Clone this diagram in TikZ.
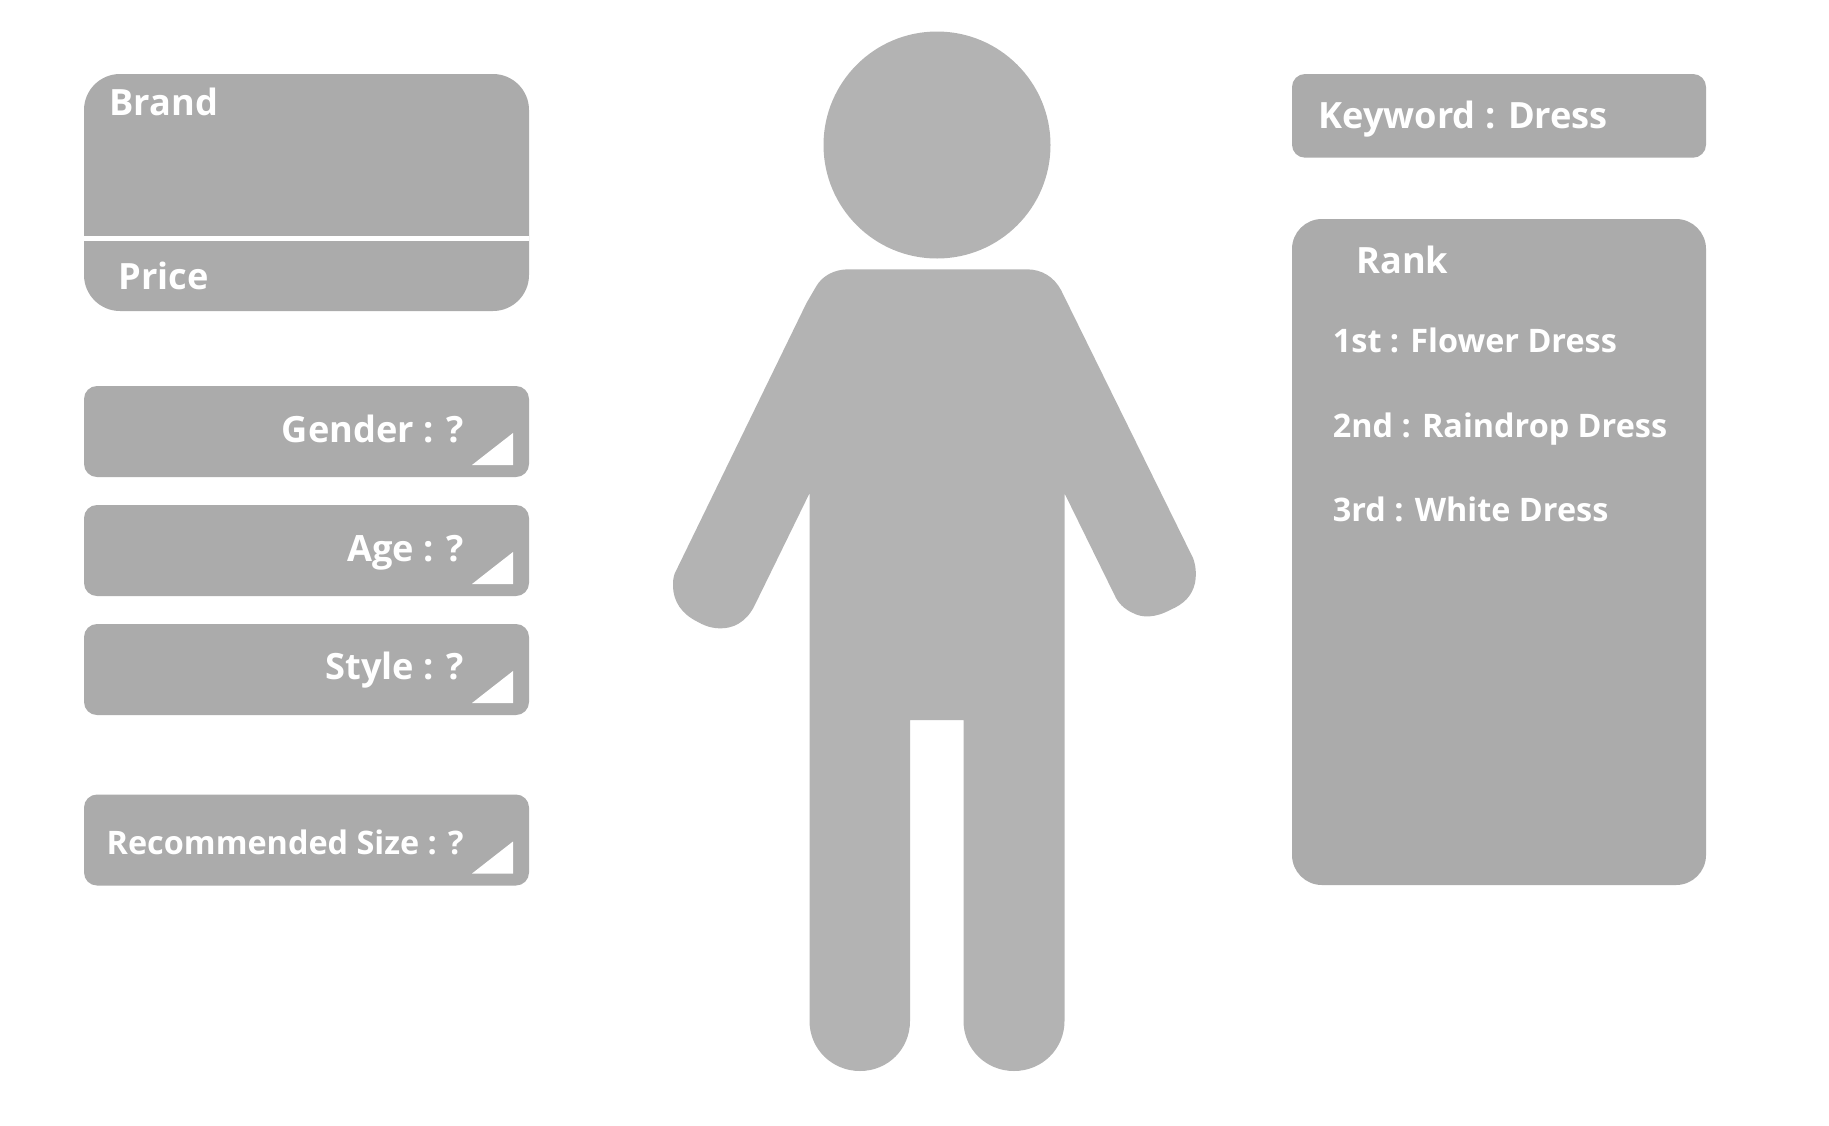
\documentclass[tikz,border=0pt]{standalone}
\usepackage{fontspec}
\setmainfont{Open Sans}
\usepackage{tikz}
\usetikzlibrary{positioning}
\definecolor{panelgray}{HTML}{ABABAB}
\definecolor{figgray}{HTML}{B3B3B3}
\tikzset{
  % panels
  bigpanel/.style={fill=panelgray,rounded corners=18pt},
  midpanel/.style={fill=panelgray,rounded corners=15pt},
  barpanel/.style={fill=panelgray,rounded corners=6.5pt},
  figure/.style={fill=figgray},
  % labels
  lbl/.style={text=white,font=\fontsize{18.1}{22}\selectfont\bfseries,inner sep=0pt,anchor=base west},
  lblr/.style={lbl,anchor=base east},
  small/.style={lbl,font=\fontsize{16.2}{18}\selectfont\bfseries},
  smallr/.style={small,anchor=base east},
}
\begin{document}
\begin{tikzpicture}[x=0.5pt,y=-0.5pt]
  \useasboundingbox (0,0) rectangle (1829,1125);
  % left column
  \fill[bigpanel] (84,74) rectangle (529,311);
  \fill[white] (84,235.7) rectangle (529,241);
  \foreach \ytop in {386,505,624,794.5}{
    \fill[barpanel] (84,\ytop) rectangle (529,\ytop+91);
    \fill[white] (472,\ytop+79) -- (513,\ytop+79) -- (513,\ytop+47) -- cycle;
  }
  \node[lbl] (brand) at (109,115) {Brand};
  \node[lbl] (price) at (118,289) {Price};
  \node[lblr] (gender) at (464,442) {Gender : ?};
  \node[lblr] (age) at (464,561) {Age : ?};
  \node[lblr] (style) at (464,679) {Style : ?};
  \node[smallr] (recsize) at (464,854) {Recommended Size : ?};
  % person
  \fill[figure] (937,145) circle[radius=113.5*0.5pt];
  \fill[figure] (848.6,269.3) -- (1026.5,269.3)
    .. controls (1042,269.3) and (1054,277) .. (1061,290)
    -- (1193,558)
    .. controls (1196,566) and (1196.5,574) .. (1195,583)
    .. controls (1192,596) and (1184,604) .. (1170,610)
    .. controls (1155,618) and (1142,618) .. (1133,613)
    .. controls (1124,609) and (1118,603) .. (1114.5,595)
    -- (1064.5,493.3) -- (1064.5,1021)
    .. controls (1064.5,1049) and (1042,1071) .. (1014,1071)
    .. controls (986,1071) and (963.5,1049) .. (963.5,1021)
    -- (963.5,720) -- (910,720) -- (910,1021)
    .. controls (910,1049) and (888,1071) .. (860,1071)
    .. controls (832,1071) and (809.5,1049) .. (809.5,1021)
    -- (809.5,493.3) -- (754,606.7)
    .. controls (746,622) and (733,629) .. (719,628.3)
    .. controls (710,628) and (703,625) .. (697.4,621.7)
    .. controls (682,614) and (673,602) .. (673,585)
    .. controls (673,578) and (674,574) .. (676.4,570)
    -- (806.5,303) -- (816,286.7)
    .. controls (822,276) and (834,269.3) .. (848.6,269.3) -- cycle;
  % right column
  \fill[barpanel] (1292,74) rectangle (1706,157.7);
  \fill[midpanel] (1292,219) rectangle (1706,885);
  \node[lbl] (keyword) at (1318,128.5) {Keyword : Dress};
  \node[lbl] (rank) at (1356,273) {Rank};
  \node[small] (first) at (1332.5,352.5) {1st : Flower Dress};
  \node[small] (second) at (1332.5,437) {2nd : Raindrop Dress};
  \node[small] (third) at (1332.5,521.5) {3rd : White Dress};
\end{tikzpicture}
\end{document}
